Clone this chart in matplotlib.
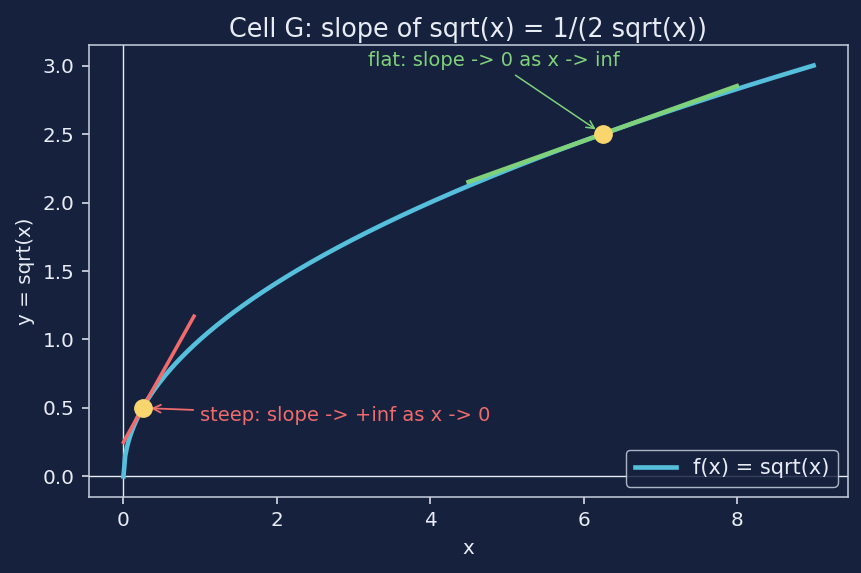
import numpy as np
import matplotlib
matplotlib.use("Agg")
import matplotlib.pyplot as plt

# curve samples
x_curve = np.linspace(0, 9, 400)
y_curve = np.sqrt(x_curve)

# tangent points
steep_x = 0.25
steep_y = 0.5
steep_slope = 1.0
steep_span = [0.0, 0.92]

flat_x = 6.25
flat_y = 2.5
flat_slope = 0.2
flat_span = [4.5, 8.0]

bg = "#16213e"
fg = "#e8ecf4"
blue = "#56c0dc"
red = "#f06b6b"
green = "#7fd27a"
yellow = "#f8d66d"

plt.rcParams["font.family"] = "DejaVu Sans"

fig, ax = plt.subplots(figsize=(8.62, 5.73), dpi=100)
fig.patch.set_facecolor(bg)
ax.set_facecolor(bg)

ax.axhline(0, color=fg, lw=1.0, zorder=1)
ax.axvline(0, color=fg, lw=1.0, zorder=1)

ax.plot(x_curve, y_curve, color=blue, lw=3.3, label="f(x) = sqrt(x)", zorder=2)

tx = np.array(steep_span)
ax.plot(tx, steep_y + steep_slope * (tx - steep_x), color=red, lw=2.6, zorder=3)
tx = np.array(flat_span)
ax.plot(tx, flat_y + flat_slope * (tx - flat_x), color=green, lw=3.2, zorder=3)

ax.plot([steep_x, flat_x], [steep_y, flat_y], "o", color=yellow, ms=12.5, zorder=4)

ax.annotate("steep: slope -> +inf as x -> 0", xy=(steep_x, steep_y),
            xytext=(1.0, 0.443), color=red, fontsize=14, ha="left", va="center",
            arrowprops=dict(arrowstyle="->", color=red, lw=1.3, shrinkA=3, shrinkB=6))
ax.annotate("flat: slope -> 0 as x -> inf", xy=(flat_x, flat_y),
            xytext=(4.83, 3.036), color=green, fontsize=14, ha="center", va="center",
            arrowprops=dict(arrowstyle="->", color=green, lw=1.1, shrinkA=3, shrinkB=6))

ax.set_title("Cell G: slope of sqrt(x) = 1/(2 sqrt(x))", color=fg, fontsize=18.4)
ax.set_xlabel("x", color=fg, fontsize=14.3, labelpad=6)
ax.set_ylabel("y = sqrt(x)", color=fg, fontsize=14.3, labelpad=5.5)
ax.tick_params(colors=fg, labelsize=14.4, length=4.8, width=1.1, pad=5.5)
for s in ax.spines.values():
    s.set_color("#c8d0de")
    s.set_linewidth(1.1)

leg = ax.legend(loc="lower right", fontsize=15, facecolor=bg, edgecolor="#c8d0de",
                labelcolor=fg, framealpha=0.85)

fig.subplots_adjust(left=0.1032, right=0.9838, top=0.9215, bottom=0.1326)
fig.savefig("out.png", facecolor=bg)
